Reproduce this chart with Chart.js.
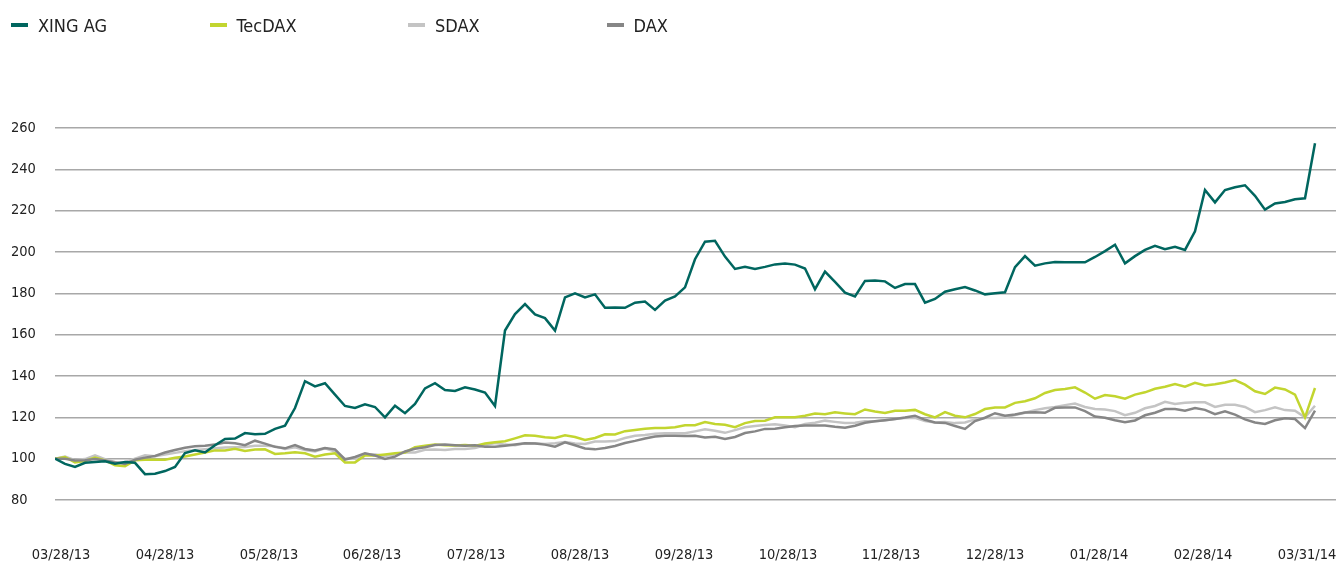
<!DOCTYPE html>
<html>
<head>
<meta charset="utf-8">
<style>
  html, body { margin: 0; padding: 0; background: #fff; overflow: hidden; }
  #wrap { position: relative; width: 1336px; height: 563px; }
  #line-chart { position: absolute; left: 0; top: 0; }
  #legend { position: absolute; left: 11px; top: 12px; height: 26px; display: flex; z-index: 2; }
  #legend .item { width: 198.5px; display: flex; align-items: center; height: 26px;
    font-family: "DejaVu Sans", sans-serif; font-stretch: condensed;
    font-size: 18px; color: #222; }
  #legend .mark { width: 17px; height: 4px; margin-right: 10px; }
</style>
</head>
<body>
<div id="wrap">
  <canvas id="line-chart" width="1336" height="563"></canvas>
  <div id="legend"></div>
</div>
<script src="https://cdn.jsdelivr.net/npm/chart.js"></script>
<script>
    // series names and colours
    var seriesNames = ['XING AG', 'TecDAX', 'SDAX', 'DAX'];
    var seriesColors = ['#00665f', '#c2d52f', '#c4c4c4', '#868686'];

    // x axis tick labels and their position (in sample steps)
    var tickLabels = ['03/28/13', '04/28/13', '05/28/13', '06/28/13', '07/28/13', '08/28/13', '09/28/13',
                      '10/28/13', '11/28/13', '12/28/13', '01/28/14', '02/28/14', '03/31/14'];
    var tickAt = [0.6, 11, 21.4, 31.7, 42.1, 52.5, 62.9, 73.3, 83.6, 94, 104.4, 114.8, 125.2];

    // indexed values, 100 = 03/28/13
    var xing = [100, 97.5, 96, 98, 98.4, 98.7, 97.6, 98.4, 98, 92.5,
        92.7, 94, 96, 102.7, 104, 103, 106.5, 109.5, 109.7, 112.4,
        111.8, 112, 114.4, 116, 124.5, 137.5, 135, 136.5, 131, 125.5,
        124.5, 126.3, 125, 120, 125.6, 122, 126.5, 134, 136.5, 133.2,
        132.8, 134.5, 133.5, 132, 125.5, 162, 170, 174.8, 169.8, 168,
        162, 178, 180, 178, 179.5, 173, 173.2, 173, 175.5, 176,
        172, 176.5, 178.5, 182.9, 196.5, 205, 205.4, 197.8, 191.8, 192.8,
        191.8, 192.8, 194, 194.4, 193.9, 192, 182, 190.5, 185.5, 180.3,
        178.5, 186, 186.2, 185.8, 182.6, 184.5, 184.5, 175.5, 177.3, 180.8,
        182, 183, 181.4, 179.5, 180, 180.5, 192.7, 198, 193.4, 194.5,
        195.2, 195, 195, 195, 197.6, 200.4, 203.5, 194.5, 198, 201,
        203, 201.4, 202.5, 201, 210, 230, 224, 230, 231.3, 232.3,
        227.2, 220.5, 223.5, 224.2, 225.5, 226, 252.6];

    var tecdax = [100, 100.8, 98.2, 98.9, 100.5, 99.2, 96.8, 96.3, 99.2, 99.5,
        99.5, 99.5, 100.4, 101.1, 102, 103, 104, 104, 104.8, 103.7,
        104.4, 104.5, 102.3, 102.6, 103.1, 102.6, 101, 102, 102.6, 98.2,
        98.2, 101.5, 101.5, 102, 102.6, 103, 105.5, 106.2, 106.8, 106.5,
        106.4, 106.6, 106.2, 107.3, 107.9, 108.4, 109.8, 111.3, 111.1, 110.4,
        110, 111.3, 110.5, 109, 110, 111.8, 111.7, 113.3, 113.9, 114.5,
        114.8, 114.8, 115.2, 116.2, 116.2, 117.7, 116.8, 116.4, 115.2, 117.2,
        118.2, 118.4, 120, 120, 120, 120.8, 121.9, 121.5, 122.4, 121.9,
        121.5, 123.8, 122.8, 122.1, 123.2, 123.2, 123.6, 121.5, 120, 122.5,
        120.8, 120, 121.6, 124, 124.8, 124.8, 127, 127.8, 129.2, 131.8,
        133.2, 133.7, 134.5, 132, 129, 130.8, 130.2, 129, 131, 132.1,
        133.8, 134.8, 136.1, 134.8, 136.7, 135.4, 136, 136.9, 138, 135.8,
        132.6, 131.3, 134.4, 133.5, 131, 120, 134.2];

    var sdax = [100, 101, 99.3, 99.8, 101.6, 99.7, 98.4, 98.3, 100, 101.6,
        101.2, 102, 102.8, 103.6, 104.2, 104.6, 105, 105.4, 105.5, 105.6,
        106.2, 106.3, 106, 104.7, 105.5, 104.2, 103.5, 105, 103.4, 100,
        100, 102.3, 102, 101.3, 102, 103, 103, 104.3, 104.4, 104.2,
        104.7, 104.7, 105.2, 106.5, 107.6, 106.8, 106.5, 107.4, 107.5, 107.1,
        107.5, 108.1, 107.3, 107.1, 108.3, 108.3, 108.5, 110, 111.1, 111.5,
        112.1, 112.3, 112.3, 112.3, 113.2, 114.2, 113.5, 112.5, 113.8, 115.2,
        115.8, 116.3, 116.6, 116, 115.2, 116.8, 117.4, 118.4, 117.8, 117.3,
        117.4, 118.1, 118.1, 118.6, 119.2, 119.7, 119.8, 118.2, 117.5, 117.8,
        117.2, 117.5, 119, 119.7, 119.7, 120, 121.1, 122.2, 123.5, 124.4,
        125, 125.9, 126.7, 125, 124, 123.8, 123, 121, 122.2, 124.4,
        125.5, 127.5, 126.5, 127, 127.3, 127.3, 125, 126.1, 126.1, 125,
        122.5, 123.5, 124.8, 123.5, 123.2, 120, 125.6];

    var dax = [100, 100, 99.1, 99.2, 99.8, 99.1, 98.2, 97.4, 99.5, 100.5,
        101.3, 103, 104.2, 105.3, 106, 106.2, 106.8, 107.8, 107.5, 106.5,
        108.7, 107.3, 105.7, 105, 106.6, 104.7, 104, 105.2, 104.5, 99.6,
        100.8, 102.6, 101.5, 99.9, 101, 103.5, 104.8, 105.5, 106.6, 106.8,
        106.5, 106.3, 106.5, 105.8, 105.8, 106.3, 106.8, 107.4, 107.3, 106.8,
        105.8, 107.9, 106.5, 104.9, 104.5, 105.2, 106.1, 107.6, 108.6, 109.8,
        110.7, 111.1, 111.1, 111, 111.1, 110.3, 110.6, 109.5, 110.5, 112.4,
        113.2, 114.4, 114.5, 115.2, 115.8, 116, 116, 116, 115.4, 115,
        115.9, 117.4, 118.1, 118.6, 119.2, 119.9, 120.8, 118.8, 117.5, 117.3,
        115.8, 114.4, 118.2, 119.8, 122, 120.8, 121.4, 122.3, 122.4, 122.2,
        124.6, 124.8, 124.8, 123, 120.4, 119.8, 118.6, 117.6, 118.5, 121,
        122.2, 124, 124, 123.2, 124.5, 123.6, 121.5, 122.9, 121.3, 119,
        117.5, 116.8, 118.6, 119.5, 119.2, 114.8, 123.2];

    var allSeries = [xing, tecdax, sdax, dax];
    var drawOrder = [0, 2, 3, 1]; // lower = drawn on top

    var fontFamily = '"DejaVu Sans Condensed", "DejaVu Sans", sans-serif';

    function toPoints(arr) {
        return arr.map(function (v, i) { return { x: i, y: v }; });
    }

    var datasets = allSeries.map(function (arr, i) {
        return {
            label: seriesNames[i],
            data: toPoints(arr),
            borderColor: seriesColors[i],
            backgroundColor: seriesColors[i],
            borderWidth: 2.5,
            pointRadius: 0,
            tension: 0,
            order: drawOrder[i]
        };
    });

    // legend as html
    var legendEl = document.getElementById('legend');
    seriesNames.forEach(function (name, i) {
        var item = document.createElement('div');
        item.className = 'item';
        var mark = document.createElement('span');
        mark.className = 'mark';
        mark.style.background = seriesColors[i];
        item.appendChild(mark);
        item.appendChild(document.createTextNode(name));
        legendEl.appendChild(item);
    });

    var options = {
        responsive: false,
        animation: false,
        layout: { padding: { left: 11, top: 128, right: 0, bottom: 0 } },
        plugins: {
            legend: { display: false },
            tooltip: { enabled: false }
        },
        scales: {
            x: {
                type: 'linear',
                min: 0,
                max: 128.1,
                grid: { display: false, drawTicks: false },
                border: { display: false },
                afterBuildTicks: function (axis) {
                    axis.ticks = tickAt.map(function (v) { return { value: v }; });
                },
                afterFit: function (axis) {
                    // keep the plot full width; labels sit well below it
                    axis.paddingLeft = 0;
                    axis.paddingRight = 0;
                    axis.height = 63;
                },
                ticks: {
                    autoSkip: false,
                    maxRotation: 0,
                    padding: 47,
                    color: '#222',
                    font: { family: fontFamily, size: 14.5 },
                    callback: function (value, index) { return tickLabels[index]; }
                }
            },
            y: {
                min: 80,
                max: 260,
                grid: { color: '#a8a8a8', lineWidth: 1.5, drawTicks: false },
                border: { display: false },
                afterFit: function (axis) { axis.width = 44; },
                ticks: {
                    stepSize: 20,
                    mirror: true,
                    crossAlign: 'near',
                    padding: -44,
                    color: '#222',
                    font: { family: fontFamily, size: 14.5 }
                }
            }
        }
    };

    var ctx = document.getElementById('line-chart').getContext('2d');
    var myChart = new Chart(ctx, {
        type: 'line',
        data: { datasets: datasets },
        options: options
    });
</script>
</body>
</html>
